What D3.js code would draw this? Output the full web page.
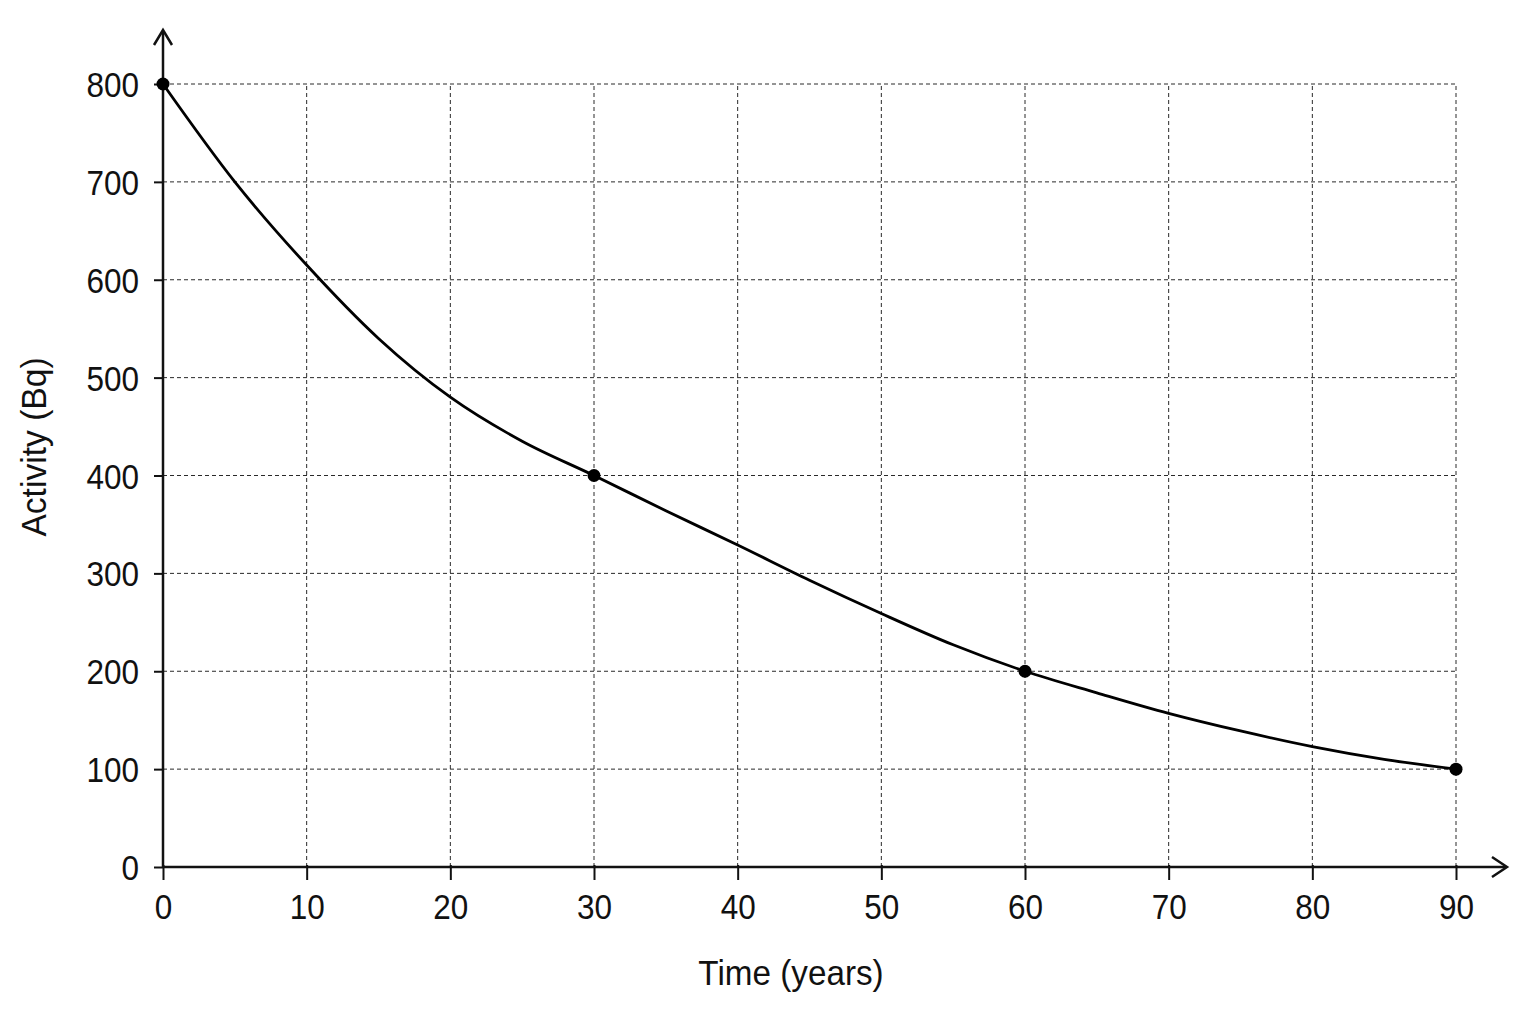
<!DOCTYPE html>
<html>
<head>
  <meta charset="utf-8">
  <script src="https://d3js.org/d3.v7.min.js"></script>
  <style>
  body {
    margin: 0;
    background: #fff;
  }
  text {
    font-family: "Liberation Sans", Arial, sans-serif;
    fill: #111;
  }
  .grid line {
    stroke: #2a2a2a;
    stroke-width: 1;
    stroke-dasharray: 4,3;
  }
</style>
</head>
<body>
<script>

  // values
  var years    = [0, 5, 10, 15, 20, 25, 30, 35, 40, 45, 50, 55, 60, 65, 70, 75, 80, 85, 90];
  var activity = [800, 700, 615, 540, 480, 435, 400, 364, 329, 293, 259, 227, 200, 178, 157, 139, 123, 110, 100];
  var markedYears    = [0, 30, 60, 90];
  var markedActivity = [800, 400, 200, 100];
  var xTicks = [0, 10, 20, 30, 40, 50, 60, 70, 80, 90];
  var yTicks = [0, 100, 200, 300, 400, 500, 600, 700, 800];

  var W = 1536, H = 1024;
  var sx = 0.9; // the reference lettering is a bit condensed

  var svg = d3.select("body").append("svg")
    .attr("width", W)
    .attr("height", H);

  var x = d3.scaleLinear().domain([0, 90]).range([163, 1456]);
  var y = d3.scaleLinear().domain([0, 800]).range([867, 84]);

  // dashed grid
  var grid = svg.append("g").attr("class", "grid");
  grid.selectAll(".h")
    .data(yTicks.filter(d => d > 0))
    .enter().append("line")
    .attr("x1", x(0)).attr("x2", x(90))
    .attr("y1", d => y(d)).attr("y2", d => y(d));
  grid.selectAll(".v")
    .data(xTicks.filter(d => d > 0))
    .enter().append("line")
    .attr("x1", d => x(d)).attr("x2", d => x(d))
    .attr("y1", y(0)).attr("y2", y(800));

  var xAxis = d3.axisBottom(x).tickValues(xTicks).tickSize(13).tickPadding(14);
  var yAxis = d3.axisLeft(y).tickValues(yTicks).tickSize(9).tickPadding(15);

  var gx = svg.append("g")
    .attr("transform", "translate(0," + y(0) + ")")
    .call(xAxis);
  var gy = svg.append("g")
    .attr("transform", "translate(" + x(0) + ",0)")
    .call(yAxis);

  [gx, gy].forEach(g => {
    g.select(".domain").remove();
    g.selectAll(".tick line").attr("stroke", "#111").attr("stroke-width", 2);
    g.selectAll(".tick text").attr("font-size", 35).attr("fill", "#111")
      .style("font-family", "'Liberation Sans', Arial, sans-serif")
      .attr("transform", "scale(" + sx + ",1)");
  });
  gx.selectAll(".tick line").attr("y1", -2);
  gy.selectAll(".tick text")
    .attr("dy", "0.36em")
    .attr("x", -24 / sx);

  // axis lines with open arrows
  svg.append("line")
    .attr("x1", x(0)).attr("x2", 1506)
    .attr("y1", y(0)).attr("y2", y(0))
    .attr("stroke", "#111").attr("stroke-width", 2.5);
  svg.append("path")
    .attr("d", "M1492," + (y(0) - 10) + " L1507," + y(0) + " L1492," + (y(0) + 10))
    .attr("fill", "none").attr("stroke", "#111").attr("stroke-width", 2.5);
  svg.append("line")
    .attr("x1", x(0)).attr("x2", x(0))
    .attr("y1", y(0)).attr("y2", 31)
    .attr("stroke", "#111").attr("stroke-width", 2.5);
  svg.append("path")
    .attr("d", "M" + (x(0) - 9) + ",45 L" + x(0) + ",30 L" + (x(0) + 9) + ",45")
    .attr("fill", "none").attr("stroke", "#111").attr("stroke-width", 2.5);

  // decay curve
  var line = d3.line()
    .x((d, i) => x(years[i]))
    .y(d => y(d))
    .curve(d3.curveMonotoneX);

  svg.append("path")
    .datum(activity)
    .attr("d", line)
    .attr("fill", "none")
    .attr("stroke", "#000")
    .attr("stroke-width", 2.8);

  svg.selectAll(".dot")
    .data(markedActivity)
    .enter().append("circle")
    .attr("cx", (d, i) => x(markedYears[i]))
    .attr("cy", d => y(d))
    .attr("r", 6.5)
    .attr("fill", "#000");

  // axis titles
  svg.append("text")
    .attr("transform", "translate(791,985) scale(0.95,1)")
    .attr("text-anchor", "middle")
    .attr("font-size", 35)
    .text("Time (years)");

  svg.append("text")
    .attr("transform", "translate(46,447) rotate(-90) scale(0.96,1)")
    .attr("text-anchor", "middle")
    .attr("font-size", 35)
    .text("Activity (Bq)");

</script>
</body>
</html>
